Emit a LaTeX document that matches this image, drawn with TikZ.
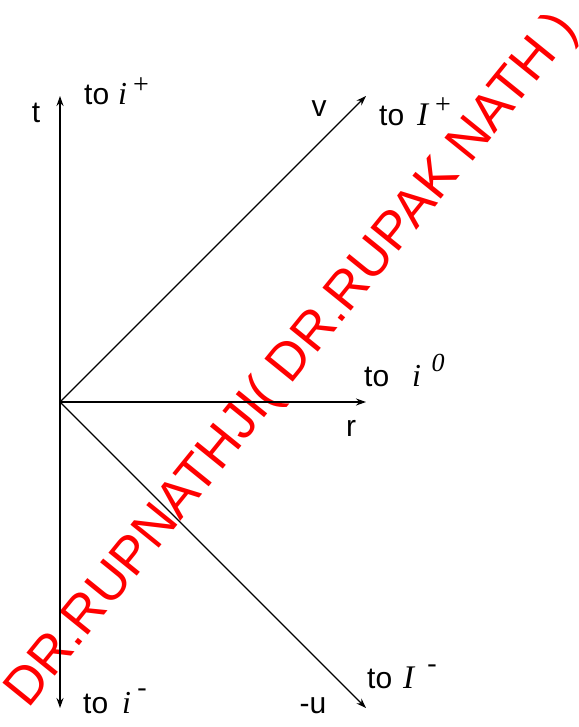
\documentclass[tikz,border=0pt]{standalone}
\usepackage{fontspec}
\setmainfont{Liberation Sans}
\newfontfamily\tms{Liberation Serif}
\usetikzlibrary{arrows.meta}
\begin{document}
\begin{tikzpicture}[x=1pt,y=-1pt,
  axis/.style={line width=1.3pt,-{Stealth[length=10pt,width=7pt]}},
  lbl/.style={inner sep=0pt,font=\fontsize{30}{32}\selectfont},
  tolbl/.style={inner sep=0pt,anchor=base west,font=\fontsize{30}{32}\selectfont},
  sym/.style={inner sep=0pt,anchor=base west,font=\fontsize{32}{34}\selectfont\tms\itshape},
  sup/.style={inner sep=0pt,font=\fontsize{28}{30}\selectfont\tms},
  wm/.style={inner sep=0pt,text=red,font=\fontsize{53}{55}\selectfont,rotate=51}]
\useasboundingbox (0,0) rectangle (578,727);
% watermark
\node[wm] (wm) at (293,361) {DR.RUPNATHJI( DR.RUPAK NATH )};
% axes
\coordinate (o) at (60,402);
\coordinate (tt) at (60,96);
\coordinate (tb) at (60,708);
\coordinate (rr) at (366,402);
\coordinate (vv) at (366,96);
\coordinate (uu) at (366,708);
\draw[axis] (o) -- (tt);
\draw[axis] (o) -- (tb);
\draw[axis] (o) -- (rr);
\draw[axis] (o) -- (vv);
\draw[axis] (o) -- (uu);
% labels
\node[lbl] (lt) at (36,113) {t};
\node[lbl] (lv) at (319,109) {v};
\node[lbl] (lr) at (351,428) {r};
\node[lbl] (lu) at (313,706) {-u};
% to i+
\node[tolbl] (t1) at (84,105) {to};
\node[sym] (s1) at (118,105) {i};
\node[sup] (p1) at (141,86) {+};
% to I+
\node[tolbl] (t2) at (379,126) {to};
\node[sym,font=\fontsize{33}{35}\selectfont\tms\itshape] (s2) at (417,126) {I};
\node[sup] (p2) at (443,106) {+};
% to i0
\node[tolbl] (t3) at (364,386) {to};
\node[sym] (s3) at (412,386) {i};
\node[sup,font=\fontsize{26}{28}\selectfont\tms\itshape] (p3) at (438,363) {0};
% to i-
\node[tolbl] (t4) at (83,713) {to};
\node[sym] (s4) at (122,713) {i};
\node[sup] (p4) at (142,693) {-};
% to I-
\node[tolbl] (t5) at (367,688) {to};
\node[sym,font=\fontsize{33}{35}\selectfont\tms\itshape] (s5) at (403,688) {I};
\node[sup] (p5) at (432,669) {-};
\end{tikzpicture}
\end{document}
